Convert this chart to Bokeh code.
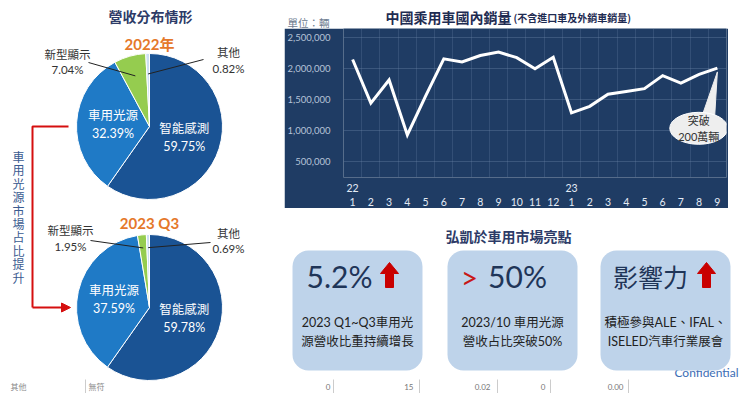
import numpy as np
from bokeh.plotting import figure
from bokeh.layouts import row, column
from bokeh.models import (Range1d, FixedTicker, NumeralTickFormatter, LinearAxis,
                          Label, Arrow, NormalHead, ColumnDataSource)
from bokeh.core.properties import value
from bokeh.embed import file_html
from bokeh.resources import INLINE

# ---------------- data ----------------
segments = ["智能感測", "車用光源", "新型顯示", "其他"]
share_2022 = [59.75, 32.39, 7.04, 0.82]
share_2023q3 = [59.78, 37.59, 1.95, 0.69]
seg_colors = ["#1a5394", "#1f7ac6", "#95cc4f", "#cde0f2"]

sales_years = ["22", "", "", "", "", "", "", "", "", "", "", "",
               "23", "", "", "", "", "", "", "", ""]
sales_months = ["1", "2", "3", "4", "5", "6", "7", "8", "9", "10", "11", "12",
                "1", "2", "3", "4", "5", "6", "7", "8", "9"]
sales_units = [2150000, 1446000, 1820000, 934000, 1560000, 2160000, 2110000,
               2215000, 2270000, 2180000, 2000000, 2185000, 1290000, 1395000,
               1590000, 1635000, 1680000, 1890000, 1770000, 1910000, 2010000]
y_ticks = [0, 500000, 1000000, 1500000, 2000000, 2500000]

highlight_big = ["5.2%", "50%", "影響力"]
highlight_text = [["2023 Q1~Q3車用光", "源營收比重持續增長"],
                  ["2023/10 車用光源", "營收占比突破50%"],
                  ["積極參與ALE、IFAL、", "ISELED汽車行業展會"]]
side_note = "車用光源市場占比提升"
footer_left = ["其他", "無符"]
footer_right = ["0", "15", "0.02", "0", "0.00"]

# ---------------- style ----------------
FONT_S = "Lato, Noto Sans CJK TC"
FONT = value(FONT_S)
CJK = value("Noto Sans CJK TC")
NAVY = "#1f3c64"
TITLE_C = "#2d3b67"
RED = "#d50f0f"


def Y(py):
    return 393 - py


def canvas(w, h, x0, x1, y0, y1):
    f = figure(width=w, height=h, x_range=Range1d(x0, x1), y_range=Range1d(y0, y1),
               output_backend="svg", toolbar_location=None,
               x_axis_location=None, y_axis_location=None, min_border=0,
               frame_align=False)
    f.xgrid.visible = False
    f.ygrid.visible = False
    f.outline_line_color = None
    f.background_fill_color = "white"
    f.border_fill_color = "white"
    return f


# ---------------- left: pies ----------------
L = canvas(284, 393, 0, 284, 0, 393)
L.text(x=[150], y=[Y(15)], text=["營收分布情形"], text_font=CJK, text_font_style="bold",
       text_font_size="14px", text_color=TITLE_C, text_align="center", text_baseline="middle")


def draw_pie(cx, cy, r, shares, year_text, year_py, outer_pos, leader_r):
    frac = np.array(shares) / np.sum(shares)
    cum = np.concatenate([[0.0], np.cumsum(frac)])
    src = ColumnDataSource(dict(start=np.pi / 2 - cum[:-1] * 2 * np.pi,
                                end=np.pi / 2 - cum[1:] * 2 * np.pi,
                                color=seg_colors, seg=segments))
    L.wedge(x=cx, y=cy, radius=r, start_angle="start", end_angle="end", direction="clock",
            fill_color="color", line_color="white", line_width=1, source=src)
    mid = (cum[:-1] + cum[1:]) / 2 * 2 * np.pi
    for i in (0, 1):
        L.text(x=[cx + 0.5 * r * np.sin(mid[i])], y=[cy + 0.5 * r * np.cos(mid[i])],
               text=[f"{segments[i]}\n{shares[i]:.2f}%"], text_font=FONT, text_font_size="12.5px",
               text_color="white", text_align="center", text_baseline="middle")
    for i, (tx, ty, lx, ly) in zip((2, 3), outer_pos):
        L.text(x=[tx], y=[Y(ty)], text=[f"{segments[i]}\n{shares[i]:.2f}%"], text_font=FONT,
               text_font_size="11.5px", text_color="#333333", text_align="center",
               text_baseline="middle")
        ex = cx + leader_r * r * np.sin(mid[i])
        ey = cy + leader_r * r * np.cos(mid[i])
        L.line([lx, ex], [Y(ly), ey], line_color="#222222", line_width=1)
    L.text(x=[cx], y=[Y(year_py)], text=[year_text], text_font=FONT, text_font_style="bold",
           text_font_size="15px", text_color="#e5782a", text_align="center", text_baseline="middle")


draw_pie(149, Y(126), 73, share_2022, "2022年", 43,
         [(67, 61.5, 88, 62), (228, 60, 203, 59)], 0.72)
draw_pie(149, Y(307), 73, share_2023q3, "2023 Q3", 222,
         [(70, 238, 90, 240), (228, 240.5, 210, 242)], 0.82)

# red bracket
L.line([68, 32, 32], [Y(126), Y(126), Y(307)], line_color=RED, line_width=2)
L.add_layout(Arrow(end=NormalHead(size=9, fill_color=RED, line_color=RED),
                   x_start=32, y_start=Y(307), x_end=70, y_end=Y(307),
                   line_color=RED, line_width=2))
chars = list(side_note)
L.text(x=[18] * len(chars), y=[Y(156 + 13.4 * k) for k in range(len(chars))], text=chars,
       text_font=CJK, text_font_size="12px", text_color="#3a5b90",
       text_align="center", text_baseline="middle")
L.text(x=[10, 88], y=[Y(386)] * 2, text=footer_left, text_font=CJK, text_font_size="8px",
       text_color="#888888", text_align="left", text_baseline="middle")
L.segment(x0=[85], y0=[Y(379)], x1=[85], y1=[Y(393)], line_color="#cccccc", line_width=1)

# ---------------- right top: title ----------------
T = canvas(456, 28, 284, 740, 365, 393)
T.text(x=[287], y=[Y(21.5)], text=["單位：輛"], text_font=CJK, text_font_size="10.5px",
       text_color="#6d7b8f", text_align="left", text_baseline="middle")
T.text(x=[385], y=[Y(16)], text=["中國乘用車國內銷量"], text_font=CJK, text_font_style="bold",
       text_font_size="14px", text_color="#1f2c52", text_align="left", text_baseline="middle")
T.text(x=[513], y=[Y(17)], text=["(不含進口車及外銷車銷量)"], text_font=CJK,
       text_font_style="bold", text_font_size="10px", text_color="#1f2c52",
       text_align="left", text_baseline="middle")

# ---------------- right: line chart ----------------
x_idx = list(range(1, len(sales_units) + 1))
C = figure(width=444, height=180, x_range=Range1d(0.5, len(x_idx) + 0.5),
           y_range=Range1d(246500, 2650000), output_backend="svg", toolbar_location=None,
           min_border_left=56, min_border_right=2, min_border_top=0, min_border_bottom=24,
           frame_align=False)
C.background_fill_color = NAVY
C.border_fill_color = NAVY
C.outline_line_color = None

yr_ax = C.xaxis[0]
yr_ax.ticker = FixedTicker(ticks=x_idx)
yr_ax.major_label_overrides = {i: s for i, s in zip(x_idx, sales_years)}
mo_ax = LinearAxis(ticker=FixedTicker(ticks=x_idx),
                   major_label_overrides={i: s for i, s in zip(x_idx, sales_months)})
C.add_layout(mo_ax, "below")
for ax, so in ((yr_ax, 0), (mo_ax, -3)):
    ax.axis_line_color = None
    ax.major_tick_line_color = None
    ax.minor_tick_line_color = None
    ax.major_label_standoff = so
    ax.major_label_text_font = FONT_S
    ax.major_label_text_font_size = "10.5px"
    ax.major_label_text_color = "#e4ebf5"

C.yaxis.ticker = FixedTicker(ticks=y_ticks)
C.yaxis.formatter = NumeralTickFormatter(format="0,0")
C.yaxis.axis_line_color = None
C.yaxis.major_tick_line_color = None
C.yaxis.minor_tick_line_color = None
C.yaxis.major_label_standoff = 7
C.yaxis.major_label_text_font = FONT_S
C.yaxis.major_label_text_font_size = "9.5px"
C.yaxis.major_label_text_color = "#b6c3d7"
C.ygrid.grid_line_color = "#7089ab"
C.ygrid.grid_line_alpha = 0.35
C.xgrid.ticker = FixedTicker(ticks=[i + 0.5 for i in range(0, len(x_idx) + 1)])
C.xgrid.grid_line_color = "#7089ab"
C.xgrid.grid_line_alpha = 0.25
C.add_layout(Label(x=0.5, y=y_ticks[0], x_offset=-15, text="-", text_font=FONT_S,
                   text_font_size="9.5px", text_color="#b6c3d7", text_align="right",
                   text_baseline="middle"))

C.line(x_idx, sales_units, line_color="white", line_width=3, line_join="miter")

# callout bubble
bx, by = 19.98, 1040000
C.patch([20.15, 20.85, x_idx[-1]], [1230000, 1230000, sales_units[-1] - 60000],
        fill_color="#eeeeee", line_color="#eeeeee")
C.ellipse(x=[bx], y=[by], width=58, height=32, width_units="screen", height_units="screen",
          fill_color="#eeeeee", line_color="white", line_width=1)
C.text(x=[bx], y=[by], text=["突破\n200萬輛"], text_font=FONT, text_font_size="11px",
       text_color="#333333", text_align="center", text_baseline="middle")

# ---------------- right bottom: highlights ----------------
B = canvas(456, 185, 284, 740, 0, 185)
B.text(x=[508], y=[Y(235)], text=["弘凱於車用市場亮點"], text_font=CJK, text_font_style="bold",
       text_font_size="14px", text_color=TITLE_C, text_align="center", text_baseline="middle")
B.text(x=[738], y=[Y(372)], text=["Confidential"], text_font=FONT, text_font_size="12px",
       text_color="#3c6db5", text_align="right", text_baseline="middle")
box_l = [292, 447, 600]
box_r = [422, 577, 730]
B.quad(left=box_l, right=box_r, bottom=[Y(370)] * 3, top=[Y(250)] * 3,
       fill_color="#bed3ea", line_color=None, border_radius=16)

B.text(x=[339], y=[Y(275)], text=[highlight_big[0]], text_font=FONT, text_font_size="30px",
       text_color="#1f3558", text_align="center", text_baseline="middle")
B.text(x=[469], y=[Y(276)], text=[">"], text_font=FONT, text_font_size="30px",
       text_color="#c81818", text_align="center", text_baseline="middle")
B.text(x=[517], y=[Y(275)], text=[highlight_big[1]], text_font=FONT, text_font_size="30px",
       text_color="#1f3558", text_align="center", text_baseline="middle")
B.text(x=[650], y=[Y(275)], text=[highlight_big[2]], text_font=CJK, text_font_size="25px",
       text_color="#1f3558", text_align="center", text_baseline="middle")


def up_arrow(xc, top, bottom):
    hh = 11
    xs = [xc, xc + 9, xc + 4, xc + 4, xc - 4, xc - 4, xc - 9]
    ys = [top, top + hh, top + hh, bottom, bottom, top + hh, top + hh]
    B.patch(xs, [Y(v) for v in ys], fill_color="#c90000", line_color="#c90000")


up_arrow(389, 262, 287)
up_arrow(706, 262, 287)

for (l, r), lines in zip(zip(box_l, box_r), highlight_text):
    B.text(x=[(l + r) / 2] * 2, y=[Y(322), Y(341)], text=lines, text_font=FONT,
           text_font_size="12.5px", text_color="#222222", text_align="center",
           text_baseline="middle")

B.text(x=[330, 413, 490, 545, 623], y=[Y(386)] * 5, text=footer_right, text_font=FONT,
       text_font_size="8px", text_color="#777777", text_align="right", text_baseline="middle")
B.segment(x0=[333, 419, 497, 550, 628], y0=[Y(379)] * 5, x1=[333, 419, 497, 550, 628],
          y1=[Y(393)] * 5, line_color="#cccccc", line_width=1)

layout = row(L, column(T, C, B))
open("out.html", "w").write(file_html(layout, INLINE))
